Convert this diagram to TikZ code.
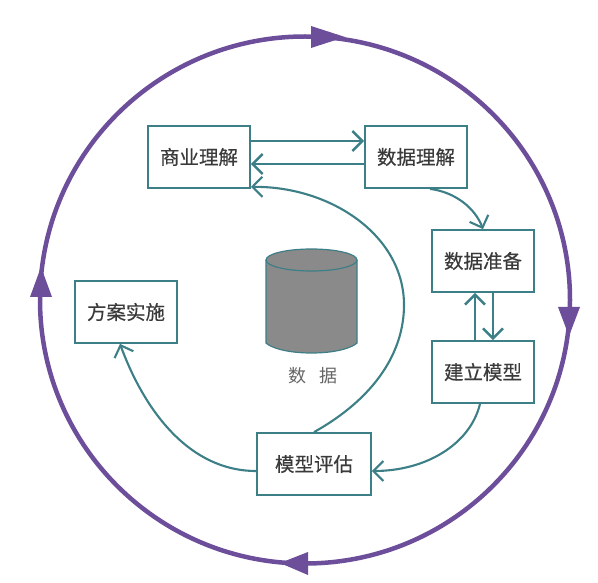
\documentclass[tikz,border=0pt]{standalone}
\usepackage{fontspec}
\usetikzlibrary{arrows.meta}
\newfontfamily\cjk[FakeBold=0.35]{Noto Sans CJK SC}
\newfontfamily\cjklight{Noto Sans CJK SC}
\definecolor{tealline}{HTML}{3C7F86}
\definecolor{ringpurple}{HTML}{6D4E9A}
\definecolor{canfill}{HTML}{8A8A8A}
\definecolor{labelgrey}{HTML}{3A3A3A}
\tikzset{
  stage/.style={draw=tealline,line width=1.8pt,fill=white,inner sep=0pt,minimum width=102pt,minimum height=62pt,
    font=\cjk\fontsize{19.5pt}{22pt}\selectfont,text=labelgrey},
  flow/.style={draw=tealline,line width=2.6pt,-{Straight Barb[length=10pt,width=20pt,line width=2.4pt]}},
  thinflow/.style={draw=tealline,line width=2.1pt,-{Straight Barb[length=10pt,width=20pt,line width=2.1pt]}},
  ring/.style={draw=ringpurple,line width=4.5pt},
  ringhead/.style={fill=ringpurple,draw=none}
}
\begin{document}
\begin{tikzpicture}[x=1pt,y=-1pt]
\useasboundingbox[fill=white] (0,0) rectangle (598,583);
% outer cycle
\draw[ring] (305,300) ellipse [x radius=265,y radius=263.5];
\fill[ringhead] (345,37) -- (311,26) -- (311,48) -- cycle;
\fill[ringhead] (569,336) -- (558,307) -- (580,307) -- cycle;
\fill[ringhead] (280,563) -- (308,552) -- (308,575) -- cycle;
\fill[ringhead] (41,267) -- (30,297) -- (52,297) -- cycle;
% data store
\draw[tealline,line width=1.2pt,fill=canfill] (266,260) -- (266,343) .. controls (270,347) and (285,353) .. (311.5,353) .. controls (338,353) and (353,347) .. (357,343) -- (357,260);
\draw[tealline,line width=1.2pt,fill=canfill] (311.5,260) ellipse [x radius=45.5,y radius=11];
\node[font=\cjklight\fontsize{18pt}{20pt}\selectfont,text=black!60] (store) at (313,376) {数\hspace{0.72em}据};
% stages
\node[stage] (biz) at (199,157) {商业理解};
\node[stage] (und) at (416,157) {数据理解};
\node[stage] (pre) at (483,261) {数据准备};
\node[stage] (mod) at (483,372) {建立模型};
\node[stage,minimum width=114pt] (eva) at (314,464) {模型评估};
\node[stage] (dep) at (126,312) {方案实施};
% connectors
\draw[flow] ([yshift=16pt]biz.east) -- ([yshift=16pt]und.west);
\draw[flow] ([yshift=-7pt]und.west) -- ([yshift=-7pt]biz.east);
\draw[flow] ([xshift=-8pt]mod.north) -- ([xshift=-8pt]pre.south);
\draw[flow] ([xshift=10pt]pre.south) -- ([xshift=10pt]mod.north);
\draw[thinflow] ([xshift=14pt]und.south) .. controls (455,192) and (475,208) .. (pre.north);
\draw[thinflow] ([xshift=-3pt]mod.south) .. controls (470,445) and (425,471) .. ([yshift=-7pt]eva.east);
\draw[thinflow] ([yshift=-7pt]eva.west) .. controls (190,471) and (145,412) .. ([xshift=-6pt]dep.south);
\draw[thinflow] (eva.north) .. controls (375,398) and (404,352) .. (404,305) .. controls (404,235) and (330,186) .. ([yshift=2pt]biz.south east);
\end{tikzpicture}
\end{document}
